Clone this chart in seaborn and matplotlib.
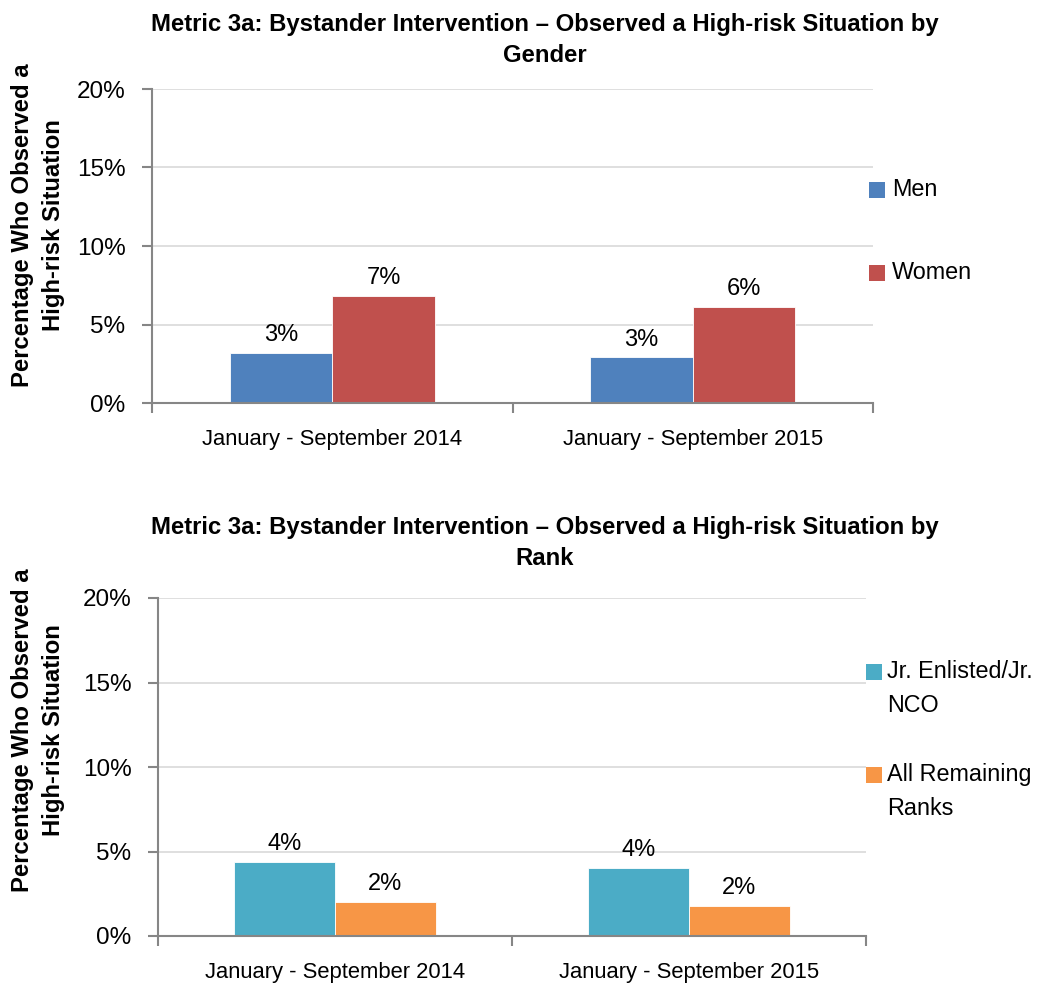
import matplotlib
matplotlib.use("Agg")
import matplotlib.pyplot as plt
import seaborn as sns
import pandas as pd
from matplotlib.patches import Rectangle
from matplotlib.ticker import FuncFormatter, FixedLocator

sns.set_theme(style="white")
plt.rcParams['font.family'] = ['Liberation Sans', 'DejaVu Sans']
plt.rcParams['text.color'] = 'black'
plt.rcParams['xtick.color'] = 'black'
plt.rcParams['ytick.color'] = 'black'

periods = ["January - September 2014", "January - September 2015"]
gender_groups = ["Men", "Women"]
men_vals = [3.2, 2.9]
women_vals = [6.8, 6.1]
rank_groups = ["Jr. Enlisted/Jr.\nNCO", "All Remaining\nRanks"]
jr_vals = [4.4, 4.0]
rem_vals = [2.0, 1.8]
y_ticks = [0, 5, 10, 15, 20]

title_top = "Metric 3a: Bystander Intervention – Observed a High-risk Situation by\nGender"
title_bot = "Metric 3a: Bystander Intervention – Observed a High-risk Situation by\nRank"
ylab = "Percentage Who Observed a\nHigh-risk Situation"

W, H = 1043, 988
fig = plt.figure(figsize=(W / 100, H / 100), dpi=100)

def px_axes(l, t, r, b):
    return fig.add_axes([l / W, 1 - b / H, (r - l) / W, (b - t) / H])

def legend(items, colors, hx, tx, ys):
    for (lab, col, y) in zip(items, colors, ys):
        fig.patches.append(Rectangle((hx / W, 1 - (y + 8) / H), 16 / W, 16 / H,
                                     transform=fig.transFigure, facecolor=col,
                                     edgecolor="none"))
        fig.text(tx / W, 1 - (y - 12) / H, lab, ha="left", va="top",
                 fontsize=16.8, linespacing=1.6)

def draw(ax, groups, s1, s2, colors, xpad):
    df = pd.DataFrame({
        "period": periods * 2,
        "group": [groups[0]] * 2 + [groups[1]] * 2,
        "value": list(s1) + list(s2),
    })
    sns.barplot(data=df, x="period", y="value", hue="group", palette=colors,
                width=0.57, gap=0, ax=ax, legend=False, saturation=1,
                edgecolor="white", linewidth=0.6)
    for c in ax.containers:
        ax.bar_label(c, labels=[f"{v:.0f}%" for v in c.datavalues],
                     padding=5, fontsize=17)
    ax.set_ylim(0, 20)
    ax.set_xlim(-0.5, 1.5)
    ax.yaxis.set_major_locator(FixedLocator(y_ticks))
    ax.yaxis.set_major_formatter(FuncFormatter(lambda v, p: f"{v:.0f}%"))
    ax.grid(axis="y", color="#d9d9d9", linewidth=1.2)
    ax.set_axisbelow(True)
    for s in ["top", "right"]:
        ax.spines[s].set_visible(False)
    for s in ["left", "bottom"]:
        ax.spines[s].set_color("#868686")
        ax.spines[s].set_linewidth(1.5)
    ax.tick_params(axis="y", which="major", direction="out", length=7, width=1.5,
                   color="#868686", labelcolor="black", labelsize=17.5, left=True, pad=12)
    ax.tick_params(axis="x", which="major", length=0, labelsize=15.8,
                   labelcolor="black", pad=xpad)
    ax.xaxis.set_minor_locator(FixedLocator([-0.5, 0.5, 1.5]))
    ax.tick_params(axis="x", which="minor", direction="out", length=7, width=1.5,
                   color="#868686", bottom=True)
    ax.set_xlabel("")
    ax.set_ylabel("")

ax1 = px_axes(152, 89, 873, 403)
draw(ax1, gender_groups, men_vals, women_vals, ["#4f81bd", "#c0504d"], 19)
legend(gender_groups, ["#4f81bd", "#c0504d"], 869, 892, [190, 273])
fig.text(545 / W, 1 - 40 / H, title_top, ha="center", va="center",
         fontsize=17.2, fontweight="bold", linespacing=1.45)
fig.text(38 / W, 1 - 225 / H, ylab, ha="center", va="center", rotation=90,
         fontsize=17.2, fontweight="bold", linespacing=1.4)

ax2 = px_axes(158, 598, 866, 936)
draw(ax2, rank_groups, jr_vals, rem_vals, ["#4bacc6", "#f79646"], 18.5)
legend(rank_groups, ["#4bacc6", "#f79646"], 866, 887, [672, 775])
fig.text(545 / W, 1 - 543 / H, title_bot, ha="center", va="center",
         fontsize=17.2, fontweight="bold", linespacing=1.45)
fig.text(38 / W, 1 - 730 / H, ylab, ha="center", va="center", rotation=90,
         fontsize=17.2, fontweight="bold", linespacing=1.4)

fig.savefig("out.png", dpi=100)
